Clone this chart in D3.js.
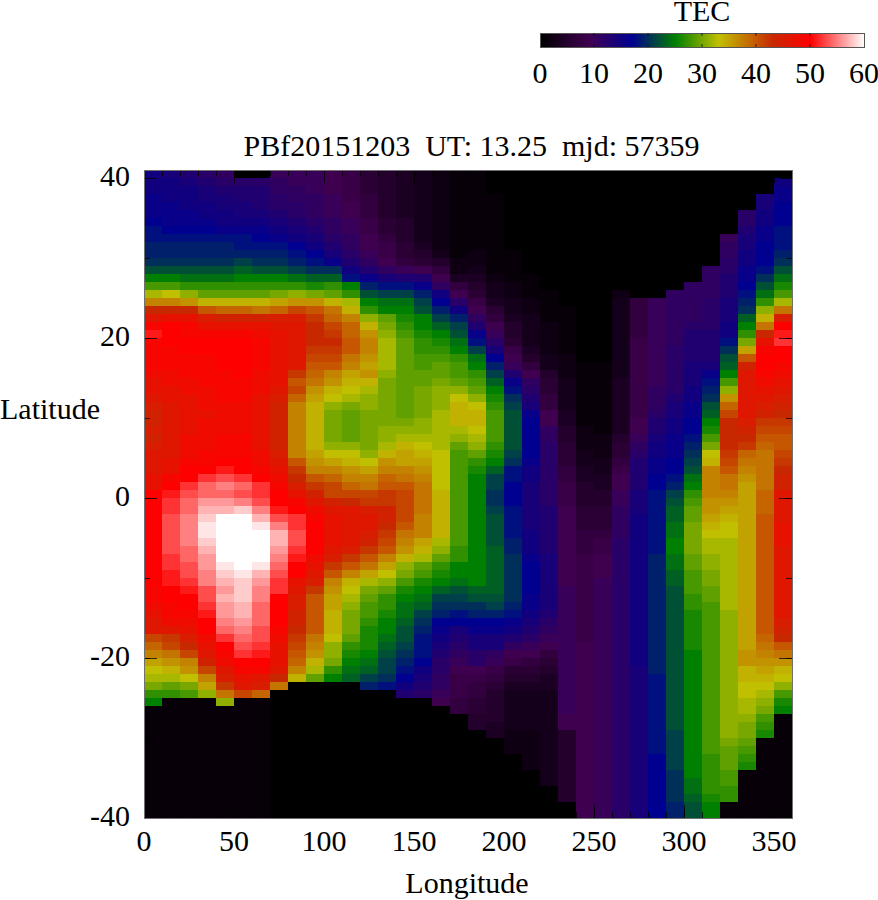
<!DOCTYPE html>
<html><head><meta charset="utf-8">
<style>html,body{margin:0;padding:0;background:#fff}svg{display:block}text{font-family:"Liberation Serif",serif;fill:#000}</style>
<script src="https://cdn.jsdelivr.net/npm/d3@7"></script></head><body><div id="c"></div>
<script>
// TEC per 10-degree longitude column, rows run from latitude 41 down to -40 in 1-degree steps
const lon000=[15,15,15,16,16,16,17,18,18,19, 19,20,22,25,28,32,37,43,46,49, 51,49,49,49,49,48,47,47,46,45, 44,44,45,44,45,46,46,46,47,47, 50,50,50,50,50,50,50,50,50,50, 50,50,49,49,48,47,46,46,41,39, 37,35,33,32,30,27,25,1,1,1, 1,1,1,1,1,1,1,1,1,1,1];
const lon010=[14,15,15,15,16,16,16,17,18,19, 19,20,22,25,28,33,37,43,47,50, 50,50,49,49,49,48,48,47,47,46, 46,46,46,46,46,46,47,47,49,50, 51,52,52,53,53,53,53,53,52,52, 51,51,50,50,49,49,48,46,42,41, 38,36,34,32,29,27,1,1,1,1, 1,1,1,1,1,1,1,1,1,1,1];
const lon020=[13,14,15,15,15,16,16,17,18,19, 19,20,22,24,27,31,36,43,47,49, 49,50,50,49,49,49,48,48,47,47, 47,47,47,48,48,48,49,50,50,52, 53,54,54,55,55,55,55,54,54,53, 53,52,51,50,50,49,48,47,45,43, 41,37,36,33,30,28,1,1,1,1, 1,1,1,1,1,1,1,1,1,1,1];
const lon030=[12,13,14,14,15,15,16,17,18,19, 19,20,22,24,27,29,34,40,45,47, 49,50,50,49,49,49,49,48,48,48, 47,48,48,48,48,49,49,50,52,54, 54,56,57,58,59,59,58,57,56,56, 55,55,53,53,52,51,50,50,48,47, 46,44,41,37,35,31,1,1,1,1, 1,1,1,1,1,1,1,1,1,1,1];
const lon040=[11,12,13,14,14,15,15,16,18,19, 19,20,22,24,27,29,34,39,44,47, 49,50,50,50,50,49,49,49,49,48, 48,48,48,49,49,49,50,51,53,55, 54,56,57,60,60,60,60,60,60,59, 58,57,56,57,56,56,55,54,52,50, 49,48,46,45,42,38,31,1,1,1, 1,1,1,1,1,1,1,1,1,1,1];
const lon050=[0,12,13,13,14,14,15,16,18,18, 19,21,23,25,27,29,34,39,44,47, 49,50,50,50,50,50,49,49,49,48, 48,48,48,49,49,49,50,50,52,54, 53,55,58,60,60,60,60,60,60,60, 59,58,58,58,57,57,56,55,54,53, 52,50,49,47,46,41,1,1,1,1, 1,1,1,1,1,1,1,1,1,1,1];
const lon060=[0,12,13,13,13,14,15,16,17,18, 19,20,22,25,27,29,34,38,44,47, 48,49,49,49,49,48,48,48,47,47, 47,47,47,47,47,48,48,49,50,52, 52,53,55,57,59,60,60,60,60,59, 57,56,55,55,54,54,54,53,53,52, 51,50,49,46,45,39,1,1,1,1, 1,1,1,1,1,1,1,1,1,1,1];
const lon070=[10,11,11,12,12,13,14,15,16,18, 19,20,22,25,27,30,35,39,45,46, 47,47,47,47,47,47,47,46,45,44, 44,44,44,44,44,45,46,47,48,49, 50,50,51,53,55,57,57,56,55,54, 53,52,52,50,50,50,50,49,48,47, 47,47,46,43,38,0,0,0,0,0, 0,0,0,0,0,0,0,0,0,0,0];
const lon080=[10,10,11,11,12,12,13,14,15,17, 18,19,21,24,27,31,36,41,45,46, 46,46,46,46,46,42,40,41,39,37, 37,37,37,37,37,37,40,42,43,45, 47,49,50,52,52,53,53,52,51,50, 50,47,46,45,45,44,44,43,42,41, 40,39,37,34,0,0,0,0,0,0, 0,0,0,0,0,0,0,0,0,0,0];
const lon090=[10,10,10,11,11,11,12,13,14,15, 17,18,20,23,26,30,36,40,42,43, 43,43,42,41,40,39,38,36,35,34, 34,34,34,34,34,35,36,37,40,42, 44,46,48,49,50,50,50,50,48,47, 46,45,42,40,40,40,40,40,38,37, 36,34,32,29,0,0,0,0,0,0, 0,0,0,0,0,0,0,0,0,0,0];
const lon100=[9,9,9,10,10,10,11,11,12,13, 14,16,20,23,27,29,34,38,39,41, 42,43,42,41,40,37,36,34,33,31, 30,30,30,30,31,33,35,37,39,41, 41,44,46,47,47,47,47,46,45,42, 40,37,36,35,35,34,34,34,33,31, 31,30,27,25,0,0,0,0,0,0, 0,0,0,0,0,0,0,0,0,0,0];
const lon110=[8,8,8,8,9,9,10,10,11,11, 12,13,15,18,25,27,32,34,37,39, 39,40,40,38,37,35,34,33,32,30, 29,29,29,29,31,33,34,36,37,39, 41,43,46,46,46,46,46,45,42,40, 37,34,33,32,31,30,30,30,29,27, 26,25,24,23,0,0,0,0,0,0, 0,0,0,0,0,0,0,0,0,0,0];
const lon120=[6,6,6,7,7,7,8,8,9,9, 10,11,13,16,19,22,25,27,31,34, 36,37,37,36,35,36,34,32,31,31, 30,30,30,30,30,31,33,35,37,38, 41,42,45,46,46,45,44,42,40,38, 35,32,30,29,28,28,27,26,26,26, 25,24,23,21,19,0,0,0,0,0, 0,0,0,0,0,0,0,0,0,0,0];
const lon130=[5,5,5,5,5,5,6,6,7,8, 8,9,11,14,18,21,24,25,29,30, 31,32,32,32,32,31,30,30,30,30, 30,30,31,31,32,34,36,37,39,40, 42,42,44,44,43,42,41,40,37,35, 33,31,29,27,27,26,25,25,24,23, 22,21,21,20,18,0,0,0,0,0, 0,0,0,0,0,0,0,0,0,0,0];
const lon140=[4,4,4,4,4,4,5,5,5,6, 6,7,10,13,18,21,24,25,26,27, 28,29,29,29,29,29,29,29,29,29, 29,30,31,32,34,35,35,37,38,40, 41,41,41,41,40,38,37,36,34,31, 30,28,26,25,24,24,23,22,22,21, 20,19,18,17,15,13,0,0,0,0, 0,0,0,0,0,0,0,0,0,0,0];
const lon150=[3,3,3,3,3,3,3,3,3,4, 5,6,9,13,16,19,21,22,25,25, 26,27,27,28,28,29,29,30,30,30, 30,31,31,32,33,34,35,36,37,38, 38,38,38,37,37,37,35,34,32,29, 28,26,25,24,23,21,20,19,18,18, 18,17,15,14,13,12,0,0,0,0, 0,0,0,0,0,0,0,0,0,0,0];
const lon160=[2,2,2,2,2,2,2,2,2,2, 3,5,7,9,11,15,17,19,21,23, 25,26,27,28,29,29,30,31,31,31, 32,32,32,32,32,33,33,33,33,33, 34,34,34,34,34,34,32,31,29,27, 26,25,23,21,20,19,17,16,15,14, 13,12,12,11,11,10,9,0,0,0, 0,0,0,0,0,0,0,0,0,0,0];
const lon170=[1,1,1,1,1,1,1,1,1,1, 1,2,2,4,7,9,12,15,19,21, 22,24,25,27,28,28,29,31,33,34, 34,34,32,31,29,28,28,28,28,28, 28,28,28,28,28,28,28,27,27,25, 25,24,22,21,20,18,17,14,13,12, 11,10,9,8,8,8,7,7,0,0, 0,0,0,0,0,0,0,0,0,0,0];
const lon180=[1,1,1,1,1,1,1,1,1,1, 2,2,3,4,5,6,8,9,11,13, 16,18,21,24,25,27,28,29,31,33, 34,34,33,32,31,29,27,26,25,25, 25,25,25,25,25,25,25,25,25,25, 25,25,23,22,20,19,17,16,14,14, 12,12,9,8,7,7,6,6,5,5, 0,0,0,0,0,0,0,0,0,0,0];
const lon190=[0,0,0,1,1,1,1,1,1,1, 1,1,1,2,3,3,4,6,7,9, 10,12,14,17,19,21,23,25,26,27, 28,28,28,28,27,26,25,23,21,21, 20,20,21,22,22,22,22,23,23,23, 23,23,23,22,21,19,17,16,14,14, 11,10,8,7,6,5,5,5,5,4, 4,0,0,0,0,0,0,0,0,0,0];
const lon200=[0,0,0,0,0,0,0,0,0,0, 1,1,1,1,2,2,3,3,4,5, 5,6,8,9,10,13,16,18,20,21, 22,22,22,22,22,21,20,18,18,17, 17,17,18,18,18,18,19,19,20,20, 20,20,20,20,19,18,16,15,13,11, 9,8,6,5,4,3,3,3,3,3, 2,2,2,0,0,0,0,0,0,0,0];
const lon210=[0,0,0,0,0,0,0,0,0,0, 0,0,0,1,1,1,2,2,3,3, 3,3,4,5,7,9,11,12,13,14, 16,17,17,17,17,17,16,15,15,14, 14,14,14,14,14,15,15,15,16,17, 17,17,17,16,16,15,14,13,12,10, 9,7,6,5,4,3,3,3,3,3, 2,2,2,2,2,0,0,0,0,0,0];
const lon220=[0,0,0,0,0,0,0,0,0,0, 0,0,0,0,0,1,1,1,1,2, 2,2,2,3,3,5,6,6,7,7, 9,9,11,11,12,12,12,12,12,12, 12,12,13,13,13,13,13,13,14,14, 14,14,14,14,14,13,12,11,10,9, 7,6,5,4,4,3,3,3,3,3, 3,3,3,3,3,3,3,0,0,0,0];
const lon230=[0,0,0,0,0,0,0,0,0,0, 0,0,0,0,0,0,0,1,1,1, 1,1,1,2,2,2,3,3,3,3, 4,4,5,5,6,6,6,7,7,8, 8,8,9,9,9,9,9,9,9,9, 9,9,10,10,10,10,10,10,10,10, 10,10,10,10,10,10,10,10,9,9, 5,5,5,5,5,5,5,5,5,0,0];
const lon240=[0,0,0,0,0,0,0,0,0,0, 0,0,0,0,0,0,0,0,0,0, 0,0,0,0,1,1,1,1,1,1, 1,1,2,2,2,3,3,4,4,5, 5,5,6,6,6,7,7,7,8,8, 8,8,8,8,8,8,8,8,8,9, 9,9,9,9,9,9,9,9,9,9, 9,9,9,9,9,9,9,9,9,9,9];
const lon250=[0,0,0,0,0,0,0,0,0,0, 0,0,0,0,0,0,0,0,0,0, 0,0,0,0,1,1,1,1,1,1, 1,1,1,2,2,2,3,3,4,4, 5,5,6,6,6,7,8,8,9,9, 9,10,10,10,10,10,10,10,10,10, 10,10,10,10,10,10,10,10,10,10, 10,10,10,10,10,10,10,10,10,10,10];
const lon260=[0,0,0,0,0,0,0,0,0,0, 0,0,0,0,0,2,3,3,3,3, 3,3,3,3,3,3,4,4,4,4, 4,4,4,5,6,6,7,8,9,9, 10,10,11,11,11,11,12,12,12,12, 12,12,12,12,12,12,12,12,12,12, 12,12,12,12,12,12,12,12,12,12, 12,12,12,12,12,12,12,12,12,12,12];
const lon270=[0,0,0,0,0,0,0,0,0,0, 0,0,0,0,0,0,7,7,7,7, 7,8,8,8,8,8,8,8,8,8, 8,9,9,10,11,12,13,13,13,13, 14,14,14,15,15,15,15,15,15,15, 15,15,15,15,15,15,15,15,15,15, 15,15,14,14,14,14,14,14,14,14, 14,14,14,14,14,14,14,14,14,14,14];
const lon280=[0,0,0,0,0,0,0,0,0,0, 0,0,0,0,0,0,10,10,10,10, 10,10,10,10,10,10,10,11,11,11, 12,13,13,14,15,15,16,16,17,17, 18,18,18,18,18,18,18,18,19,19, 19,19,19,19,19,19,19,19,19,19, 19,19,19,18,18,18,18,18,18,18, 18,18,18,17,17,17,17,17,17,17,17];
const lon290=[0,0,0,0,0,0,0,0,0,0, 0,0,0,0,0,11,11,11,11,11, 11,11,12,12,12,12,12,12,13,14, 14,15,15,16,16,16,17,17,18,19, 21,22,23,23,24,24,25,25,24,24, 23,23,22,22,22,22,22,22,22,22, 22,22,22,22,22,22,22,22,22,22, 21,21,21,21,21,20,20,20,20,19,19];
const lon300=[0,0,0,0,0,0,0,0,0,0, 0,0,0,0,11,11,11,11,11,12, 13,13,13,13,14,14,14,15,15,16, 16,17,17,18,19,20,21,22,24,25, 27,28,29,29,30,30,30,30,29,29, 28,28,28,27,27,26,26,26,26,26, 25,25,25,25,25,25,25,25,25,25, 25,25,25,25,25,25,24,24,23,22,22];
const lon310=[0,0,0,0,0,0,0,0,0,0, 0,0,11,11,11,11,12,12,12,12, 13,13,13,13,14,16,18,19,20,22, 23,25,26,28,30,33,34,37,37,37, 37,36,36,35,34,33,32,32,31,31, 30,30,29,29,28,28,28,28,28,28, 28,28,28,28,28,28,28,28,28,28, 28,28,28,27,27,27,27,27,26,25,25];
const lon320=[0,0,0,0,0,0,0,0,10,11, 11,12,12,13,13,13,14,14,14,15, 15,18,20,22,23,25,28,31,36,39, 41,43,43,43,43,42,41,40,38,38, 37,36,35,34,33,33,32,32,32,32, 32,32,32,32,32,31,31,31,31,31, 31,31,31,31,31,31,31,31,31,31, 31,30,29,29,29,28,28,27,27,1,1];
const lon330=[0,0,0,0,0,12,12,13,14,14, 15,15,16,16,17,18,19,20,23,25, 27,30,35,40,44,46,46,46,46,46, 46,45,44,43,42,39,38,37,36,35, 35,35,35,35,35,35,35,35,35,35, 35,35,35,35,35,35,35,35,35,35, 36,36,34,34,33,33,32,32,31,30, 30,29,28,27,26,1,1,1,1,1,1];
const lon340=[0,0,0,14,14,15,15,16,16,17, 17,17,18,20,22,24,27,31,34,38, 43,47,49,50,50,49,48,47,46,45, 44,42,41,40,39,38,38,38,38,38, 39,39,39,40,40,40,40,40,40,40, 40,40,40,40,40,40,40,40,39,38, 37,36,35,34,33,32,31,30,28,27, 26,1,1,1,1,1,1,1,1,1,1];
const lon350=[0,15,16,16,17,17,17,18,18,18, 19,20,22,24,26,28,32,38,45,50, 51,52,50,50,49,48,47,46,45,44, 43,42,41,40,40,41,42,43,44,44, 46,46,46,46,47,47,47,46,46,46, 46,46,46,46,46,46,45,44,43,40, 38,36,34,33,31,28,26,25,1,1, 1,1,1,1,1,1,1,1,1,1,1];
const columns=[lon000,lon010,lon020,lon030,lon040,lon050,lon060,lon070,lon080,lon090,lon100,lon110,lon120,lon130,lon140,lon150,lon160,lon170,lon180,lon190,lon200,lon210,lon220,lon230,lon240,lon250,lon260,lon270,lon280,lon290,lon300,lon310,lon320,lon330,lon340,lon350];
const colorStops=[0,9,17,25,33,43,50,60];
const colorValues=["#000000","#400050","#000090","#008000","#c0c000","#c82800","#ff0000","#ffffff"];
const lonTicks=[0,50,100,150,200,250,300,350];
const latTicks=[-40,-20,0,20,40];
const barTicks=[0,10,20,30,40,50,60];
const titleText="PBf20151203  UT: 13.25  mjd: 57359";

const W=878,H=900,FS=30;
const svg=d3.select("#c").append("svg").attr("width",W).attr("height",H);
const x=d3.scaleLinear().domain([0,360]).range([144,792]);
const y=d3.scaleLinear().domain([-40,41]).range([818,170]);
const color=d3.scaleLinear().domain(colorStops).range(colorValues).interpolate(d3.interpolateRgb).clamp(true);

const cells=columns.flatMap((col,i)=>col.map((v,r)=>({lon:i*10,top:41-r,v})));
svg.append("g").attr("shape-rendering","crispEdges").selectAll("rect").data(cells).join("rect")
  .attr("x",d=>x(d.lon)).attr("y",d=>y(d.top))
  .attr("width",d=>x(d.lon+10)-x(d.lon)+0.5).attr("height",d=>y(d.top-1)-y(d.top)+0.5)
  .attr("fill",d=>color(d.v));

function styleAxis(g){g.select(".domain").remove();g.selectAll("text").remove();g.selectAll("line").attr("stroke","#000").attr("stroke-width",1).attr("stroke-opacity",0.75).attr("shape-rendering","crispEdges");}
const lonMinor=d3.range(0,361,10), latMinor=d3.range(-40,41,10);
const mk=(ax,scale,vals,len,tr)=>svg.append("g").attr("transform",tr).call(ax(scale).tickValues(vals).tickSize(len)).call(styleAxis);
mk(d3.axisTop,x,lonMinor,6,"translate(0,818)");
mk(d3.axisBottom,x,lonMinor,6,"translate(0,170)");
mk(d3.axisRight,y,latMinor,6,"translate(144,0)");
mk(d3.axisLeft,y,latMinor,6,"translate(792,0)");
mk(d3.axisTop,x,lonTicks,13,"translate(0,818)");
mk(d3.axisBottom,x,lonTicks,13,"translate(0,170)");
mk(d3.axisRight,y,latTicks,13,"translate(144,0)");
mk(d3.axisLeft,y,latTicks,13,"translate(792,0)");
// tick labels
svg.append("g").selectAll("text").data(lonTicks).join("text").attr("x",d=>x(d)).attr("y",851).attr("text-anchor","middle").attr("font-size",FS).text(d=>d);
svg.append("g").selectAll("text").data(latTicks).join("text").attr("x",130).attr("y",d=>y(d)+8).attr("text-anchor","end").attr("font-size",FS).text(d=>d);
svg.append("rect").attr("x",144).attr("y",170).attr("width",648).attr("height",648).attr("fill","none").attr("stroke","#707070").attr("shape-rendering","crispEdges");
svg.append("text").attr("x",467).attr("y",893).attr("text-anchor","middle").attr("font-size",FS).text("Longitude");
svg.append("text").attr("x",0).attr("y",419).attr("font-size",FS).text("Latitude");
svg.append("text").attr("x",471.5).attr("y",156).attr("text-anchor","middle").attr("font-size",FS).style("white-space","pre").text(titleText);

// colour bar
const bx=d3.scaleLinear().domain([0,60]).range([540,864]);
svg.append("g").attr("shape-rendering","crispEdges").selectAll("rect").data(d3.range(0,60,60/324)).join("rect")
  .attr("x",d=>bx(d)).attr("y",33).attr("width",1.2).attr("height",14).attr("fill",d=>color(d));
svg.append("rect").attr("x",540).attr("y",33).attr("width",324).attr("height",14).attr("fill","none").attr("stroke","#555").attr("shape-rendering","crispEdges");
svg.append("g").selectAll("line").data(barTicks.slice(1,-1)).join("line").attr("x1",d=>bx(d)).attr("x2",d=>bx(d)).attr("y1",33).attr("y2",36).attr("stroke","#000").attr("stroke-opacity",0.7);
svg.append("g").selectAll("line").data(barTicks.slice(1,-1)).join("line").attr("x1",d=>bx(d)).attr("x2",d=>bx(d)).attr("y1",44).attr("y2",47).attr("stroke","#000").attr("stroke-opacity",0.7);
svg.append("g").selectAll("text").data(barTicks).join("text").attr("x",d=>bx(d)).attr("y",83).attr("text-anchor","middle").attr("font-size",FS).text(d=>d);
svg.append("text").attr("x",702).attr("y",21).attr("text-anchor","middle").attr("font-size",FS).text("TEC");
</script></body></html>
